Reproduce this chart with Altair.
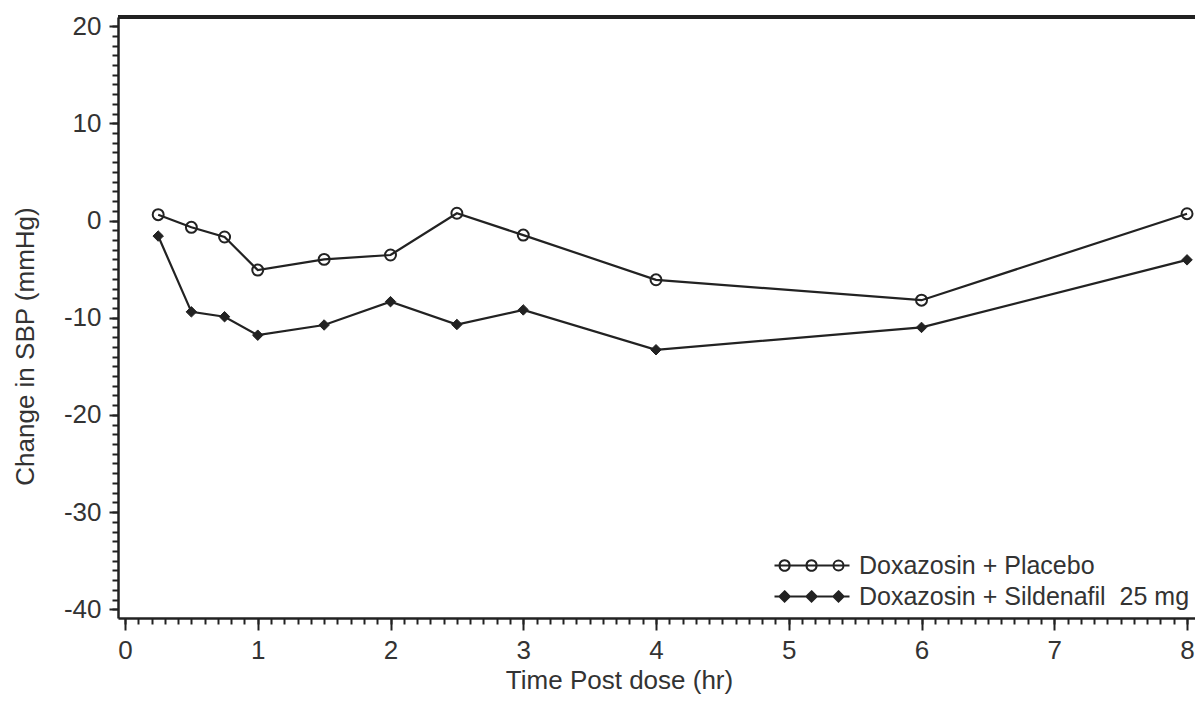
import altair as alt
import pandas as pd

# ---- data ----
times = [0.25, 0.5, 0.75, 1, 1.5, 2, 2.5, 3, 4, 6, 8]
placebo = [0.6, -0.7, -1.7, -5.1, -4.0, -3.55, 0.75, -1.5, -6.1, -8.2, 0.7]
sildenafil = [-1.6, -9.4, -9.9, -11.8, -10.75, -8.35, -10.7, -9.2, -13.3, -11.0, -4.05]
series_names = ["Doxazosin + Placebo", "Doxazosin + Sildenafil\u00a0 25 mg"]
y_major = [-40, -30, -20, -10, 0, 10, 20]
x_major = [0, 1, 2, 3, 4, 5, 6, 7, 8]

rows = []
for t, v in zip(times, placebo):
    rows.append({"time": t, "value": v, "series": series_names[0]})
for t, v in zip(times, sildenafil):
    rows.append({"time": t, "value": v, "series": series_names[1]})
df = pd.DataFrame(rows)

FONT = "Liberation Sans, Arial, sans-serif"
FS = 26
LFS = 25
INK = "#222222"
TXT = "#333333"
W, H = 1077, 601

xscale = alt.Scale(domain=[-0.0527, 8.06], nice=False, zero=False)
yscale = alt.Scale(domain=[-40.9, 20.94], nice=False, zero=False)

y_minor = list(range(-40, 21))
x_minor = [round(i * 0.1, 1) for i in range(0, 81)]

def f(v):
    return f"{v:.3f}"

# legend symbol paths (unit = 11 px)
r = 0.4545
line_seg = "M-5.818,0L1,0"
centers = [-4.9, -2.45, 0.0]
circ = ""
for c in centers:
    circ += f"M{f(c + r)},0A{f(r)},{f(r)} 0 1 1 {f(c - r)},0A{f(r)},{f(r)} 0 1 1 {f(c + r)},0"
path_circ = line_seg + circ
dia = ""
rd = 0.47
for c in centers:
    dia += f"M{f(c)},{f(-rd)}L{f(c + rd)},0L{f(c)},{f(rd)}L{f(c - rd)},0Z"
path_dia = line_seg + dia

base = alt.Chart(df)

minor = base.mark_point(opacity=0).encode(
    x=alt.X("time:Q", scale=xscale,
            axis=alt.Axis(orient="bottom", values=x_minor, labels=False, domain=False,
                          grid=False, tickSize=6, tickWidth=2, tickColor=INK, title=None)),
    y=alt.Y("value:Q", scale=yscale,
            axis=alt.Axis(orient="left", values=y_minor, labels=False, domain=False,
                          grid=False, tickSize=6, tickWidth=2, tickColor=INK, title=None)),
)

lines = base.mark_line(color=INK, strokeWidth=2.2).encode(
    x=alt.X("time:Q", scale=xscale,
            axis=alt.Axis(orient="bottom", values=x_major, labelExpr="'' + datum.value",
                          grid=False, tickSize=12, tickWidth=2, tickColor=INK,
                          domainColor=INK, domainWidth=2.5,
                          labelFont=FONT, labelFontSize=FS, labelColor=TXT, labelPadding=7,
                          title="Time Post dose (hr)", titleFont=FONT, titleFontSize=FS,
                          titleFontWeight="normal", titleColor=TXT, titleX=501, titleY=70,
                          titleBaseline="alphabetic")),
    y=alt.Y("value:Q", scale=yscale,
            axis=alt.Axis(orient="left", values=y_major, labelExpr="'' + datum.value",
                          grid=False, tickSize=9, tickWidth=2, tickColor=INK,
                          domainColor=INK, domainWidth=2.5,
                          labelFont=FONT, labelFontSize=FS, labelColor=TXT, labelPadding=8,
                          title="Change in SBP (mmHg)", titleFont=FONT, titleFontSize=FS,
                          titleFontWeight="normal", titleColor=TXT, titleX=-85, titleY=329,
                          titleBaseline="alphabetic")),
    detail="series:N",
)

pts_placebo = base.transform_filter(alt.datum.series == series_names[0]).mark_point(
    filled=False, strokeWidth=2, size=120, opacity=1
).encode(
    x=alt.X("time:Q", scale=xscale, axis=None),
    y=alt.Y("value:Q", scale=yscale, axis=None),
    color=alt.Color("series:N", scale=alt.Scale(domain=[series_names[0]], range=[INK]),
                    legend=alt.Legend(orient="none", legendX=708, legendY=536, title=None,
                                      symbolType=path_circ, symbolSize=484,
                                      symbolStrokeColor=INK, symbolFillColor="transparent",
                                      symbolStrokeWidth=2, labelFont=FONT, labelFontSize=LFS,
                                      labelColor=TXT, labelOffset=8, labelLimit=500, padding=0)),
)

pts_sild = base.transform_filter(alt.datum.series == series_names[1]).mark_point(
    filled=True, shape="diamond", fill=INK, strokeWidth=1, size=110, opacity=1
).encode(
    x=alt.X("time:Q", scale=xscale, axis=None),
    y=alt.Y("value:Q", scale=yscale, axis=None),
    stroke=alt.Stroke("series:N", scale=alt.Scale(domain=[series_names[1]], range=[INK]),
                      legend=alt.Legend(orient="none", legendX=708, legendY=567, title=None,
                                        symbolType=path_dia, symbolSize=484,
                                        symbolFillColor=INK, symbolStrokeColor=INK,
                                        symbolStrokeWidth=2, labelFont=FONT, labelFontSize=LFS,
                                        labelColor=TXT, labelOffset=8, labelLimit=500, padding=0)),
)

top_rule = alt.Chart(df).mark_rule(color=INK, strokeWidth=2.5).encode(
    x=alt.value(0), x2=alt.value(W), y=alt.value(0)
)

chart = alt.layer(minor, lines, pts_placebo, pts_sild, top_rule).resolve_axis(
    x="independent", y="independent"
).resolve_legend(color="independent", stroke="independent").properties(
    width=W, height=H,
    autosize=alt.AutoSizeParams(type="none"),
    padding={"left": 110, "top": 9, "right": 0, "bottom": 78},
).configure_view(stroke=None).configure(background="white")

chart.save("out.html", embed_options={"renderer": "svg", "actions": False})
